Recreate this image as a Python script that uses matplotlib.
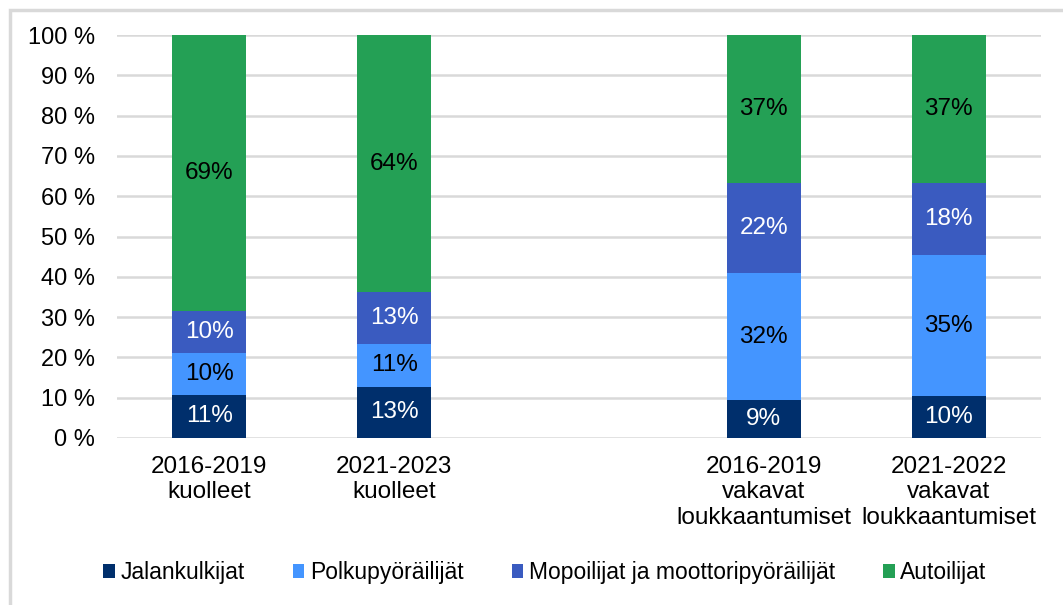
import matplotlib
matplotlib.use("Agg")
import matplotlib.pyplot as plt
from matplotlib.patches import Rectangle
import numpy as np

categories = ["2016-2019\nkuolleet", "2021-2023\nkuolleet", "",
              "2016-2019\nvakavat\nloukkaantumiset", "2021-2022\nvakavat\nloukkaantumiset"]
series_names = ["Jalankulkijat", "Polkupyöräilijät",
                "Mopoilijat ja moottoripyöräilijät", "Autoilijat"]
jalankulkijat = [10.7, 12.7, 0, 9.4, 10.4]
polkupyorailijat = [10.4, 10.6, 0, 31.5, 35.0]
mopoilijat = [10.4, 12.9, 0, 22.4, 17.9]
autoilijat = [68.5, 63.8, 0, 36.7, 36.7]
labels_j = ["11%", "13%", "", "9%", "10%"]
labels_p = ["10%", "11%", "", "32%", "35%"]
labels_m = ["10%", "13%", "", "22%", "18%"]
labels_a = ["69%", "64%", "", "37%", "37%"]
yticks = [0, 10, 20, 30, 40, 50, 60, 70, 80, 90, 100]

colors = ["#002F6C", "#4495FF", "#3A5BC0", "#24A055"]
text_colors = ["white", "black", "white", "black"]

plt.rcParams["font.family"] = ["Liberation Sans", "DejaVu Sans"]

fig = plt.figure(figsize=(10.63, 6.05), dpi=100)
ax = fig.add_axes([117/1063, 1-438/605, (1041-117)/1063, (438-35)/605])

# outer frame
fig.patches.append(Rectangle((10/1063, -0.1), 1.2, (600-5)/605 + 0.1,
                             transform=fig.transFigure, fill=False,
                             edgecolor="#D9D9D9", linewidth=2.5))

x = np.arange(len(categories))
data = [jalankulkijat, polkupyorailijat, mopoilijat, autoilijat]
labs = [labels_j, labels_p, labels_m, labels_a]
bottom = np.zeros(len(categories))
for vals, c, tc, name, lb in zip(data, colors, text_colors, series_names, labs):
    vals = np.array(vals, dtype=float)
    ax.bar(x, vals, 0.4, bottom=bottom, color=c, label=name, zorder=3)
    for xi, v, b, t in zip(x, vals, bottom, lb):
        if t:
            ax.text(xi, b + v/2, t, ha="center", va="center", color=tc,
                    fontsize=17.5, zorder=4)
    bottom += vals

ax.set_xlim(-0.5, len(categories)-0.5)
ax.set_ylim(0, 100)
ax.set_yticks(yticks)
ax.set_yticklabels([f"{v} %" for v in yticks], fontsize=17)
ax.set_xticks(x)
ax.set_xticklabels(categories, fontsize=17.5, linespacing=1.2)
ax.tick_params(axis="both", length=0)
ax.tick_params(axis="y", pad=16)
ax.tick_params(axis="x", pad=13)
for s in ax.spines.values():
    s.set_visible(False)
ax.yaxis.grid(True, color="#D9D9D9", linewidth=1.8, zorder=0)
ax.set_axisbelow(True)

leg = fig.legend(loc="center", bbox_to_anchor=(545/1063, 1-573/605), ncol=4,
                 frameon=False, handlelength=0.5, handleheight=0.55,
                 handletextpad=0.25, columnspacing=2.1,
                 prop={"family": ["Liberation Sans"], "size": 16.5})

fig.savefig("out.png", dpi=100)
